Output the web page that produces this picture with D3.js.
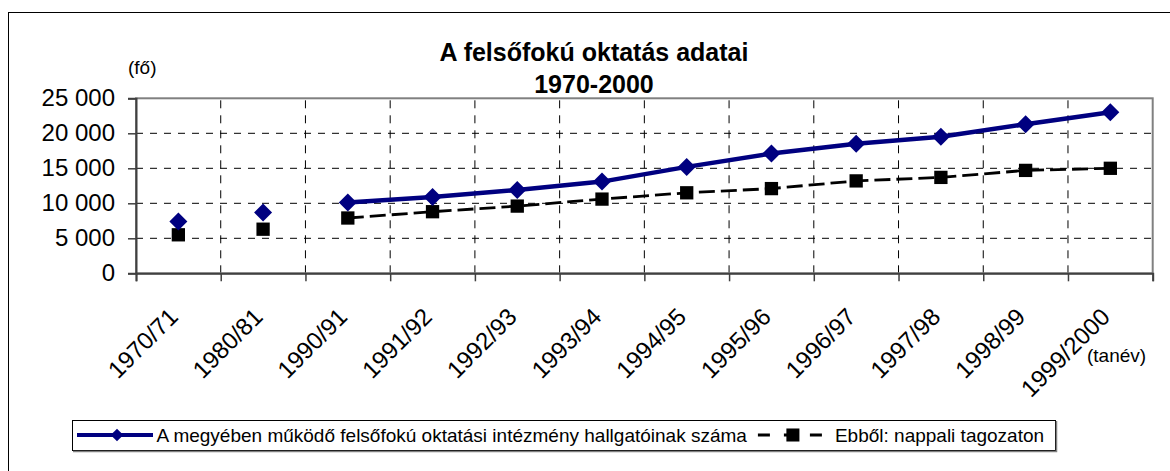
<!DOCTYPE html>
<html>
<head>
<meta charset="utf-8">
<script src="https://cdn.jsdelivr.net/npm/d3@7/dist/d3.min.js"></script>
<style>
  html, body { margin: 0; padding: 0; background: #fff; }
  svg { display: block; font-family: Arial, "Liberation Sans", sans-serif; }
</style>
</head>
<body>
<div id="chart"></div>
<script>
// chart values
const categories = ['1970/71', '1980/81', '1990/91', '1991/92', '1992/93', '1993/94',
  '1994/95', '1995/96', '1996/97', '1997/98', '1998/99', '1999/2000']
const students = [7400, 8700, 10100, 10900, 11900, 13100, 15200, 17100, 18500, 19500, 21300, 23000]
const fullTime = [5500, 6300, 7900, 8800, 9600, 10600, 11500, 12100, 13200, 13700, 14700, 15000]
const yTicks = [0, 5000, 10000, 15000, 20000, 25000]
const connectedFrom = '1990/91'

const titleLines = ['A felsőfokú oktatás adatai', '1970-2000']
const seriesNames = ['A megyében működő felsőfokú oktatási intézmény hallgatóinak száma', 'Ebből: nappali tagozaton']

const width = 1170, height = 471
const margin = {top: 98.3, right: 1170 - 1152.7, bottom: 471 - 273.3, left: 136}
const navy = '#000080'

const svg = d3.select('#chart').append('svg')
  .attr('width', width)
  .attr('height', height)

// outer frame (runs off the right and bottom of the picture)
svg.append('rect')
  .attr('x', 8.5).attr('y', 12.5)
  .attr('width', 1200).attr('height', 500)
  .attr('fill', 'none').attr('stroke', '#000').attr('stroke-width', 1)

let x = d3.scaleBand()
  .domain(categories)
  .range([margin.left, width - margin.right])
  .padding(0)

let xEdges = d3.scaleLinear()
  .domain([0, categories.length])
  .range(x.range())

let y = d3.scaleLinear()
  .domain([0, 25000])
  .range([height - margin.bottom, margin.top])

const fmt = v => d3.format(',')(v).replace(/,/g, ' ')

// gridlines
svg.append('g')
  .selectAll('line')
  .data(yTicks.filter(t => t > 0 && t < 25000))
  .enter().append('line')
  .attr('x1', x.range()[0]).attr('x2', x.range()[1])
  .attr('y1', d => y(d)).attr('y2', d => y(d))
  .attr('stroke', '#000').attr('stroke-width', 1)
  .attr('stroke-dasharray', '7,7')

svg.append('g')
  .selectAll('line')
  .data(d3.range(1, categories.length))
  .enter().append('line')
  .attr('x1', d => xEdges(d)).attr('x2', d => xEdges(d))
  .attr('y1', y(0)).attr('y2', y(25000))
  .attr('stroke', '#000').attr('stroke-width', 1)
  .attr('stroke-dasharray', '8,7')

// plot border
svg.append('rect')
  .attr('x', x.range()[0]).attr('y', y(25000))
  .attr('width', x.range()[1] - x.range()[0])
  .attr('height', y(0) - y(25000))
  .attr('fill', 'none').attr('stroke', '#808080').attr('stroke-width', 2)

// y axis
const yAxis = svg.append('g')
  .attr('transform', `translate(${margin.left},0)`)
  .call(d3.axisLeft(y).tickValues(yTicks).tickFormat(fmt).tickSize(8).tickPadding(13))

yAxis.select('.domain').attr('stroke', '#404040').attr('stroke-width', 2)
yAxis.selectAll('.tick line').attr('stroke', '#404040').attr('stroke-width', 1.5)
yAxis.selectAll('.tick text')
  .attr('font-size', 24)
  .attr('fill', '#000')
  .attr('font-family', 'Arial, "Liberation Sans", sans-serif')

// x axis: ticks on category edges, labels on centres
const xTicks = svg.append('g')
  .attr('transform', `translate(0,${y(0)})`)
  .call(d3.axisBottom(xEdges).tickValues(d3.range(categories.length + 1)).tickFormat('').tickSize(8))

xTicks.select('.domain').attr('stroke', '#404040').attr('stroke-width', 2)
xTicks.selectAll('.tick line').attr('stroke', '#404040').attr('stroke-width', 1.5)

const xAxis = svg.append('g')
  .attr('transform', `translate(0,${y(0)})`)
  .call(d3.axisBottom(x).tickSize(0))

xAxis.select('.domain').remove()
xAxis.selectAll('.tick text')
  .attr('x', 0).attr('y', 0).attr('dy', 0)
  .attr('text-anchor', 'end')
  .attr('transform', 'translate(1,45) rotate(-45)')
  .attr('font-size', 24)
  .attr('fill', '#000')
  .attr('font-family', 'Arial, "Liberation Sans", sans-serif')

// series
const startIdx = categories.indexOf(connectedFrom)

let line1 = d3.line()
  .defined((d, i) => i >= startIdx)
  .x((d, i) => x(categories[i]) + x.bandwidth() / 2)
  .y(d => y(d))

svg.append('path')
  .datum(fullTime)
  .attr('d', line1)
  .attr('fill', 'none')
  .attr('stroke', '#000')
  .attr('stroke-width', 2.8)
  .attr('stroke-dasharray', '16,6')

svg.append('path')
  .datum(students)
  .attr('d', line1)
  .attr('fill', 'none')
  .attr('stroke', navy)
  .attr('stroke-width', 4.5)
  .attr('stroke-linejoin', 'round')

svg.append('g')
  .selectAll('path')
  .data(fullTime)
  .enter().append('path')
  .attr('d', d3.symbol(d3.symbolSquare, 177))
  .attr('transform', (d, i) => `translate(${x(categories[i]) + x.bandwidth() / 2},${y(d)})`)
  .attr('fill', '#000')

svg.append('g')
  .selectAll('path')
  .data(students)
  .enter().append('path')
  .attr('d', d3.symbol(d3.symbolSquare, 162))
  .attr('transform', (d, i) => `translate(${x(categories[i]) + x.bandwidth() / 2},${y(d)}) rotate(45)`)
  .attr('fill', navy)

// title
svg.append('g')
  .selectAll('text')
  .data(titleLines)
  .enter().append('text')
  .attr('x', 594)
  .attr('y', (d, i) => 61 + i * 32)
  .attr('text-anchor', 'middle')
  .attr('font-size', 25)
  .attr('font-weight', 'bold')
  .text(d => d)

// unit labels
svg.append('text')
  .attr('x', 128).attr('y', 74)
  .attr('font-size', 19)
  .text('(fő)')

svg.append('text')
  .attr('x', 1087).attr('y', 362)
  .attr('font-size', 19)
  .text('(tanév)')

// legend
const legend = svg.append('g')

legend.append('rect')
  .attr('x', 72.5).attr('y', 420.5)
  .attr('width', 983).attr('height', 30)
  .attr('fill', '#fff').attr('stroke', '#000').attr('stroke-width', 1)

legend.append('path')
  .attr('d', `M73,451.5H1056.5V421`)
  .attr('fill', 'none').attr('stroke', '#808080').attr('stroke-width', 1.5)

const ly = 435

legend.append('line')
  .attr('x1', 77).attr('x2', 153).attr('y1', ly).attr('y2', ly)
  .attr('stroke', navy).attr('stroke-width', 4)

legend.append('path')
  .attr('d', d3.symbol(d3.symbolSquare, 80))
  .attr('transform', `translate(117,${ly}) rotate(45)`)
  .attr('fill', navy)

const t1 = legend.append('text')
  .attr('x', 156.5).attr('y', ly + 7)
  .attr('font-size', 19)
  .text(seriesNames[0])

const x2 = 156.5 + t1.node().getComputedTextLength() + 11

legend.append('line')
  .attr('x1', x2).attr('x2', x2 + 64).attr('y1', ly).attr('y2', ly)
  .attr('stroke', '#000').attr('stroke-width', 3)
  .attr('stroke-dasharray', '12,14')

legend.append('path')
  .attr('d', d3.symbol(d3.symbolSquare, 170))
  .attr('transform', `translate(${x2 + 35},${ly})`)
  .attr('fill', '#000')

legend.append('text')
  .attr('x', x2 + 77).attr('y', ly + 7)
  .attr('font-size', 19)
  .text(seriesNames[1])
</script>
</body>
</html>
